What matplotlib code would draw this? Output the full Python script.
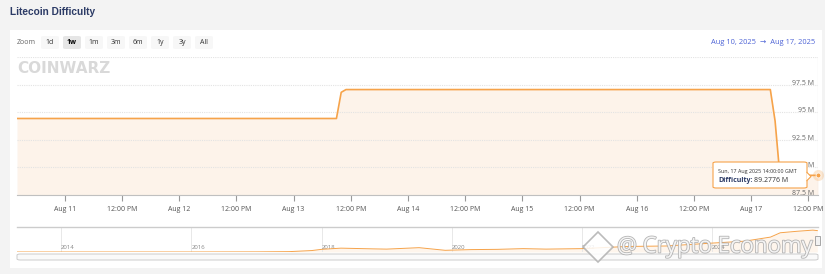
import matplotlib
matplotlib.use('Agg')
import matplotlib.pyplot as plt
import matplotlib.dates as mdates
import matplotlib.patheffects as pe
from matplotlib.patches import Rectangle, FancyBboxPatch, Polygon
import pandas as pd

# Main series: Litecoin difficulty (M), last week
times = pd.to_datetime(['2025-08-10 14:00', '2025-08-13 09:00', '2025-08-13 10:00',
                        '2025-08-13 11:00', '2025-08-17 04:00', '2025-08-17 05:00',
                        '2025-08-17 06:00', '2025-08-17 14:00'])
difficulty = [94.43, 94.43, 96.8, 97.05, 97.05, 94.2, 89.3, 89.2776]

y_ticks = [87.5, 90, 92.5, 95, 97.5, 100]
y_labels = ['87.5 M', '90 M', '92.5 M', '95 M', '97.5 M', '']

# Navigator series: full history (decimal years, difficulty in M)
nav_years = [2013.32, 2015.0, 2016.0, 2017.0, 2017.5, 2017.85, 2018.0, 2018.3, 2018.8,
             2019.0, 2019.5, 2019.9, 2020.3, 2020.7, 2021.1, 2021.45, 2022.0, 2022.7,
             2023.3, 2024.0, 2024.5, 2024.9, 2025.05, 2025.3, 2025.55, 2025.62]
nav_values = [0.02, 0.05, 0.06, 0.5, 1.5, 6, 11, 16, 13, 12, 18, 7, 10, 11, 14, 12, 14,
              23, 25, 37, 45, 62, 80, 86, 91, 89]
nav_ticks = [2014, 2016, 2018, 2020, 2022, 2024]

zoom_buttons = ['1d', '1w', '1m', '3m', '6m', '1y', '3y', 'All']
selected_button = '1w'

ORANGE = '#f6a34a'
FILL = '#fdf3ea'
W, H = 825, 274
SANS = ['Open Sans', 'DejaVu Sans']


def fx(x):
    return x / W


def fy(y):
    return 1 - y / H


fig = plt.figure(figsize=(W / 100, H / 100), dpi=100)
fig.patch.set_facecolor('#f3f3f3')

# White card behind the chart (below the axes)
fig.patches.append(Rectangle((fx(10), fy(268)), fx(812), 238 / H, transform=fig.transFigure,
                             facecolor='white', edgecolor='none', zorder=-5))

fig.text(fx(10), fy(12), 'Litecoin Difficulty', fontsize=7.3, fontweight='bold',
         family='Liberation Sans', color='#2c3b66', va='center', ha='left')

# Range selector buttons
fig.text(fx(17), fy(43), 'Zoom', fontsize=5, family=SANS, color='#666666', va='center')
for i, label in enumerate(zoom_buttons):
    cx = 50 + i * 22
    sel = label == selected_button
    fig.patches.append(FancyBboxPatch((fx(cx - 9), fy(49)), fx(18), 13 / H,
                                      boxstyle='round,pad=0,rounding_size=0.004',
                                      transform=fig.transFigure, facecolor='#e6e6e6' if sel else '#f7f7f7',
                                      edgecolor='none', zorder=1))
    fig.text(fx(cx), fy(43), label, fontsize=5, family=SANS, color='#000000' if sel else '#333333',
             fontweight='bold' if sel else 'normal', ha='center', va='center', zorder=2)

fig.text(fx(815), fy(42), 'Aug 10, 2025  \u2192  Aug 17, 2025', fontsize=5.4, family=SANS,
         color='#4d63d6', ha='right', va='center')

# Main chart (fill kept under the axis so the tick labels stay on top)
ax = fig.add_axes([fx(17), fy(195), fx(801), 138 / H])
ax.set_facecolor('none')
ax.fill_between(times, difficulty, 87.5, color=FILL, lw=0, zorder=0.2)
ax.plot(times, difficulty, color=ORANGE, lw=1.2, zorder=3)
ax.axvline(times[-1], color='#cccccc', lw=0.8, zorder=2)
ax.plot(times[-1], difficulty[-1], 'o', color=ORANGE, ms=8, alpha=0.25, mec='none', clip_on=False, zorder=4)
ax.plot(times[-1], difficulty[-1], 'o', color=ORANGE, ms=3.5, mec='white', mew=0.5, clip_on=False, zorder=5)

ax.set_xlim(times[0], times[-1])
ax.set_ylim(87.5, 100)
ax.set_yticks(y_ticks)
ax.set_yticklabels(y_labels)
ax.yaxis.tick_right()
ax.tick_params(axis='y', length=0, pad=-3, labelsize=5, labelcolor='#666666')
for t in ax.get_yticklabels():
    t.set_horizontalalignment('right')
    t.set_verticalalignment('baseline')
    t.set_family(SANS)
ax.grid(axis='y', color='#e3e3e3', lw=0.8, linestyle=(0, (1, 1)))
ax.set_axisbelow(True)

ax.xaxis.set_major_locator(mdates.HourLocator(byhour=[0, 12]))
ax.xaxis.set_major_formatter(plt.FuncFormatter(
    lambda v, pos: mdates.num2date(v).strftime('%b %d').replace(' 0', ' ')
    if mdates.num2date(v).hour == 0 else '12:00 PM'))
ax.tick_params(axis='x', length=4, width=0.8, color='#999999', pad=4, labelsize=5, labelcolor='#555555')
for t in ax.get_xticklabels():
    t.set_family(SANS)
for side in ['top', 'left', 'right']:
    ax.spines[side].set_visible(False)
ax.spines['bottom'].set_color('#c0c0c0')
ax.spines['bottom'].set_linewidth(0.8)

# CoinWarz watermark
ax.text(0.0, 0.92, 'COINWARZ', transform=ax.transAxes, fontsize=11, fontweight='bold',
        family='DejaVu Sans', color='#d9d9d9', va='center', ha='left', zorder=0)

# Tooltip
fig.patches.append(FancyBboxPatch((fx(713), fy(188)), fx(94), 26 / H,
                                  boxstyle='round,pad=0,rounding_size=0.004', transform=fig.transFigure,
                                  facecolor='white', edgecolor=ORANGE, lw=0.8, zorder=6))
fig.patches.append(Polygon([(fx(806.5), fy(172)), (fx(811), fy(176.5)), (fx(806.5), fy(181))],
                           closed=False, transform=fig.transFigure, facecolor='white',
                           edgecolor=ORANGE, lw=0.8, zorder=6))
fig.text(fx(718), fy(171), 'Sun, 17 Aug 2025 14:00:00 GMT', fontsize=3.9, family=SANS,
         color='#333333', va='center', zorder=7)
fig.text(fx(718), fy(181), 'Difficulty:', fontsize=5, family=SANS, fontweight='bold',
         color='#2c3b66', va='center', zorder=7)
fig.text(fx(754), fy(181), '89.2776 M', fontsize=5, family=SANS,
         color='#333333', va='center', zorder=7)

# Navigator
nav = fig.add_axes([fx(17), fy(252), fx(801), 25 / H])
nav.set_facecolor('none')
nav.fill_between(nav_years, nav_values, 0, color=ORANGE, alpha=0.1, lw=0)
nav.plot(nav_years, nav_values, color=ORANGE, lw=0.7)
nav.set_xlim(2013.32, 2025.63)
nav.set_ylim(0, 104)
nav.set_yticks([])
nav.set_xticks(nav_ticks)
nav.set_xticklabels([str(y) for y in nav_ticks])
nav.tick_params(axis='x', length=0, pad=-5, labelsize=4.3, labelcolor='#888888')
for t in nav.get_xticklabels():
    t.set_horizontalalignment('left')
    t.set_family(SANS)
nav.grid(axis='x', color='#e8e8e8', lw=0.7)
for side in ['left', 'right', 'bottom']:
    nav.spines[side].set_visible(False)
nav.spines['top'].set_color('#cccccc')
nav.spines['top'].set_linewidth(1.0)

# Navigator handle and scrollbar
fig.patches.append(Rectangle((fx(815), fy(245)), fx(5), 9 / H, transform=fig.transFigure,
                             facecolor='#f2f2f2', edgecolor='#999999', lw=0.6, zorder=4))
fig.patches.append(FancyBboxPatch((fx(17), fy(260)), fx(801), 6 / H,
                                  boxstyle='round,pad=0,rounding_size=0.004', transform=fig.transFigure,
                                  facecolor='#fafafa', edgecolor='#cccccc', lw=0.7, zorder=3))

# Crypto Economy watermark
fig.patches.append(Polygon([(fx(598), fy(232)), (fx(613), fy(247)), (fx(598), fy(262)), (fx(583), fy(247))],
                           transform=fig.transFigure, facecolor='white', edgecolor='#b0b0b0',
                           lw=1.2, alpha=0.85, zorder=8))
fig.text(fx(617), fy(247), '@ Crypto Economy', fontsize=16, family=SANS, color='white',
         alpha=0.85, va='center', ha='left', zorder=9,
         path_effects=[pe.withStroke(linewidth=1.2, foreground='#a8a8a8')])

fig.savefig('out.png', dpi=100, facecolor=fig.get_facecolor())
